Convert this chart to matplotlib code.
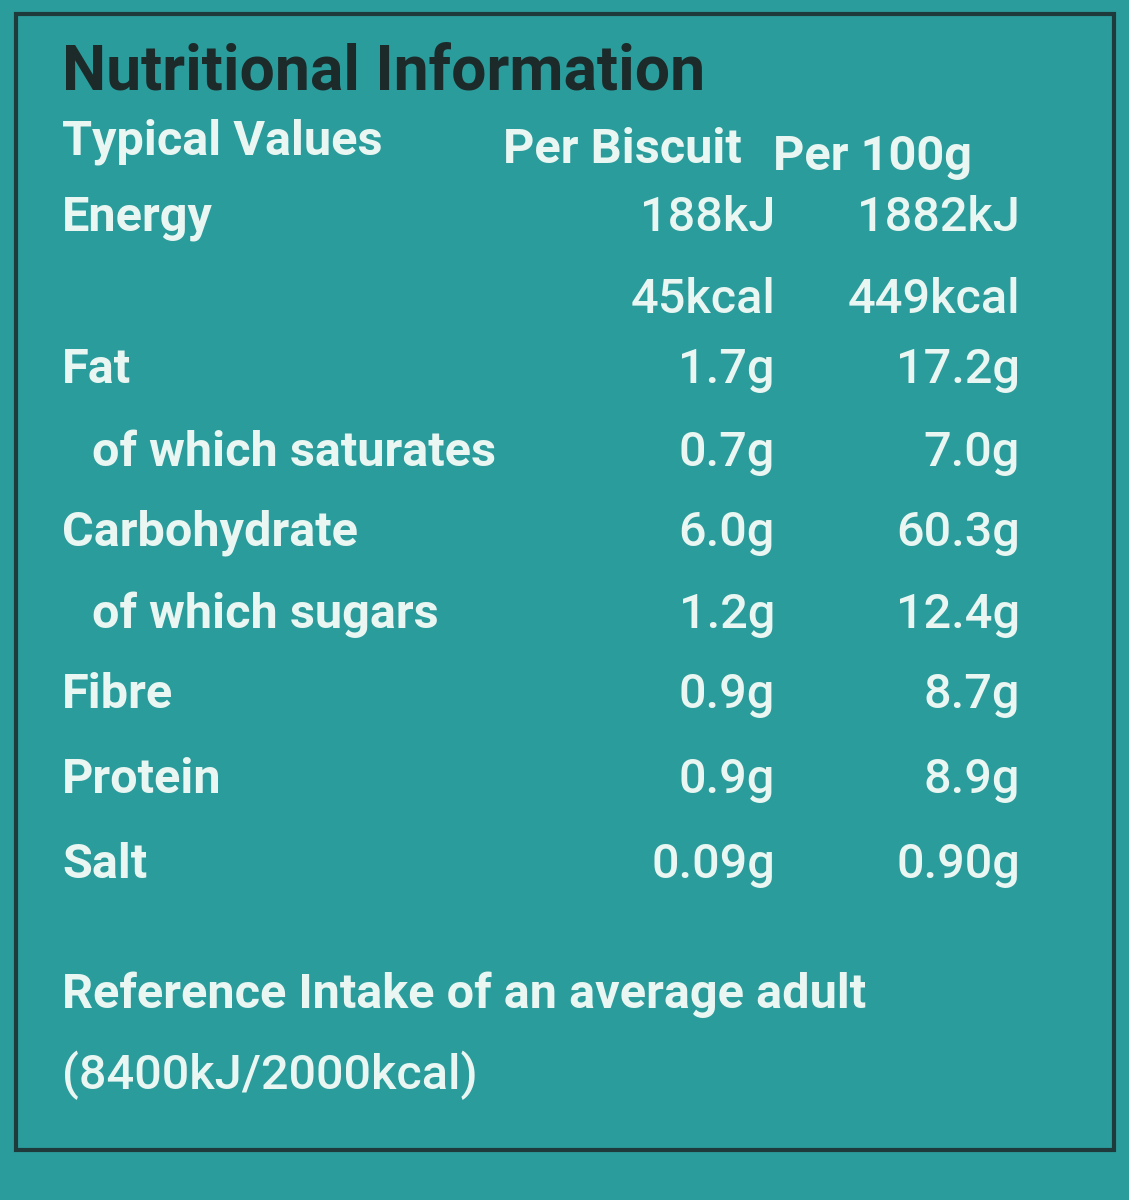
import matplotlib
matplotlib.use("Agg")
import matplotlib.pyplot as plt
from matplotlib.patches import Rectangle

title = "Nutritional Information"
headers = ["Typical Values", "Per Biscuit", "Per 100g"]
nutrients = ["Energy", "", "Fat", "of which saturates", "Carbohydrate",
             "of which sugars", "Fibre", "Protein", "Salt"]
indent = [False, False, False, True, False, True, False, False, False]
per_biscuit = ["188kJ", "45kcal", "1.7g", "0.7g", "6.0g", "1.2g", "0.9g", "0.9g", "0.09g"]
per_100g = ["1882kJ", "449kcal", "17.2g", "7.0g", "60.3g", "12.4g", "8.7g", "8.9g", "0.90g"]
footer = ["Reference Intake of an average adult", "(8400kJ/2000kcal)"]

row_y = [218, 300, 370, 453, 533, 615, 695, 780, 865]

W, H = 1129, 1200
fig = plt.figure(figsize=(W/100, H/100), dpi=100)
bg = "#2b9c9c"
fig.patch.set_facecolor(bg)
ax = fig.add_axes([0, 0, 1, 1])
ax.set_xlim(0, W); ax.set_ylim(H, 0); ax.axis("off")
ax.set_facecolor(bg)
ax.add_patch(Rectangle((16, 14), 1098, 1136, fill=False, ec="#1f3a3a", lw=3))

fg = "#eaf6f2"
fam = ["Roboto", "DejaVu Sans"]
kw = dict(color=fg, fontfamily=fam, fontweight="bold", fontsize=35, va="center")
nkw = {**kw, "fontweight": "medium"}
ax.text(62, 72, title, color="#1c2a2a", fontfamily=fam, fontweight="bold", fontsize=45, va="center")
ax.text(62, 142, headers[0], ha="left", **kw)
ax.text(742, 150, headers[1], ha="right", **kw)
ax.text(972, 157, headers[2], ha="right", **kw)
for i, (n, a, b) in enumerate(zip(nutrients, per_biscuit, per_100g)):
    y = row_y[i]
    ax.text(92 if indent[i] else 62, y, n, ha="left", **kw)
    ax.text(775, y, a, ha="right", **nkw)
    ax.text(1020, y, b, ha="right", **nkw)
ax.text(62, 995, footer[0], ha="left", **kw)
ax.text(62, 1075, footer[1], ha="left", **nkw)
fig.savefig("out.png", dpi=100, facecolor=bg)
